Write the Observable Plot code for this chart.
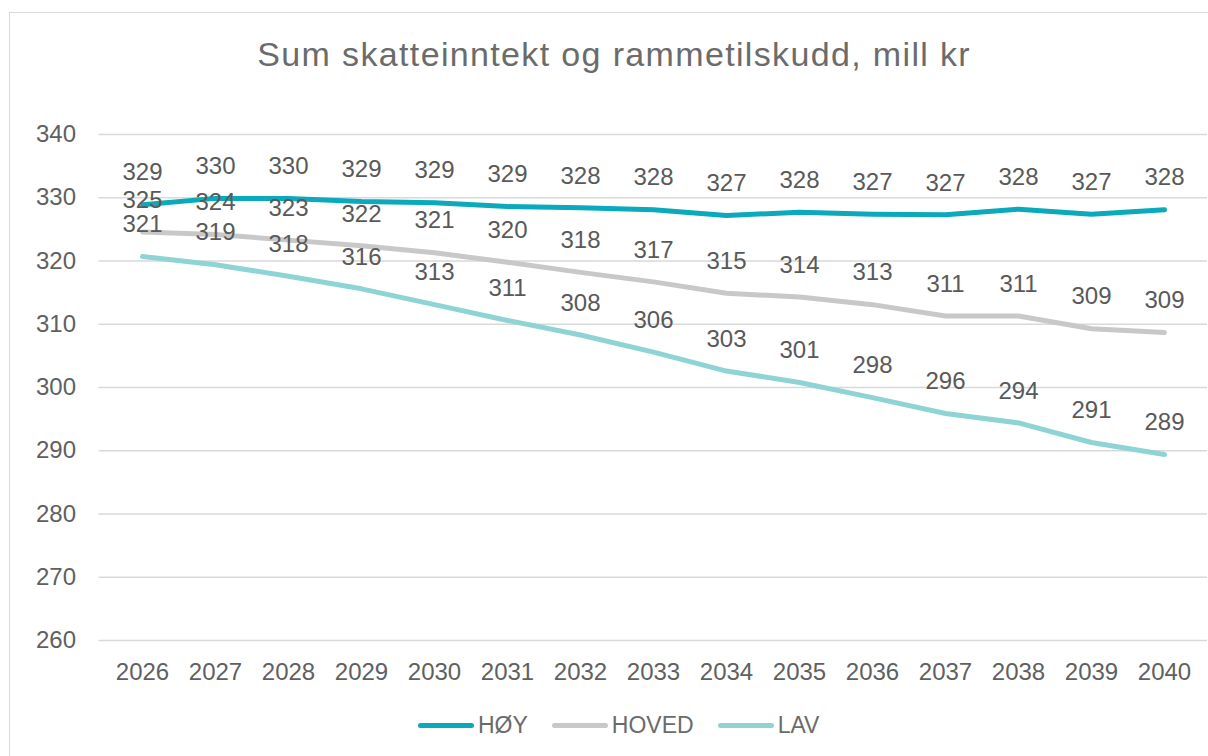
<!DOCTYPE html>
<html>
<head>
<meta charset="utf-8">
<script src="https://cdn.jsdelivr.net/npm/d3@7"></script>
<script src="https://cdn.jsdelivr.net/npm/@observablehq/plot@0.6"></script>
<style>
  html, body { margin: 0; padding: 0; background: #fff; }
  body { width: 1208px; height: 756px; overflow: hidden; position: relative; font-family: "Liberation Sans", Arial, sans-serif; }
  #frame { position: absolute; left: 9px; top: 12px; width: 1220px; height: 800px; border: 1.5px solid #d9d9d9; box-sizing: border-box; }
  #title { position: absolute; left: 614.2px; top: 36.9px; transform: translateX(-50%); white-space: nowrap; font-size: 34px; line-height: 34px; letter-spacing: 1.35px; color: #6b6b6b; }
  #chart { position: absolute; left: 0; top: 0; }
  #legend { position: absolute; left: 418px; top: 714px; height: 23px; display: flex; align-items: center; font-size: 23px; line-height: 23px; color: #6b6b6b; }
  .item { display: flex; align-items: center; margin-right: 24px; }
  .sw { width: 56px; height: 5px; border-radius: 3px; margin-right: 4px; }
</style>
</head>
<body>
<div id="frame"></div>
<div id="chart"></div>
<div id="title">Sum skatteinntekt og rammetilskudd, mill kr</div>
<div id="legend"></div>
<script>
const years = [2026, 2027, 2028, 2029, 2030, 2031, 2032, 2033, 2034, 2035, 2036, 2037, 2038, 2039, 2040];
const hoy   = [328.9, 329.9, 329.9, 329.4, 329.2, 328.6, 328.4, 328.1, 327.2, 327.7, 327.4, 327.3, 328.2, 327.4, 328.1];
const hoved = [324.6, 324.2, 323.3, 322.4, 321.3, 319.8, 318.2, 316.7, 314.9, 314.3, 313.1, 311.3, 311.3, 309.3, 308.7];
const lav   = [320.7, 319.4, 317.6, 315.6, 313.1, 310.6, 308.3, 305.6, 302.6, 300.8, 298.4, 295.9, 294.4, 291.3, 289.4];
const seriesNames = ["HØY", "HOVED", "LAV"];
const seriesColors = ["#0aa9bb", "#c8c8c8", "#8fd4d4"];
const yTicks = [260, 270, 280, 290, 300, 310, 320, 330, 340];

const seriesValues = [hoy, hoved, lav];
const rows = seriesNames.flatMap((s, i) => years.map((yr, j) => ({series: s, year: yr, value: seriesValues[i][j]})));

const fmt = d3.format(".0f");
const chart = Plot.plot({
  width: 1208,
  height: 700,
  marginLeft: 98.5,
  marginRight: 1,
  marginTop: 134,
  marginBottom: 60,
  x: {type: "point", domain: years, padding: 0.5, label: null},
  y: {domain: [260, 340], label: null},
  color: {domain: seriesNames, range: seriesColors},
  style: {fontFamily: "'Liberation Sans', Arial, sans-serif", fontSize: "24px", color: "#606060", background: "transparent", overflow: "visible"},
  marks: [
    Plot.gridY(yTicks, {stroke: "#d9d9d9", strokeOpacity: 1, strokeWidth: 1.4}),
    Plot.axisX({tickSize: 0, tickPadding: 22, fontSize: 24, fill: "#606060", label: null, tickFormat: d => String(d)}),
    Plot.axisY(yTicks, {tickSize: 0, tickPadding: 23, fontSize: 24, fill: "#606060", label: null}),
    Plot.line(rows, {x: "year", y: "value", z: "series", stroke: "series", strokeWidth: 5, strokeLinecap: "round", strokeLinejoin: "round"}),
    Plot.text(rows, {x: "year", y: "value", text: d => fmt(d.value), dy: -32, fontSize: 24, fill: "#595959"})
  ]
});
document.getElementById("chart").appendChild(chart);

const legend = document.getElementById("legend");
seriesNames.forEach((s, i) => {
  const item = document.createElement("div");
  item.className = "item";
  const sw = document.createElement("div");
  sw.className = "sw";
  sw.style.background = seriesColors[i];
  const t = document.createElement("span");
  t.textContent = s;
  item.appendChild(sw);
  item.appendChild(t);
  legend.appendChild(item);
});
</script>
</body>
</html>
